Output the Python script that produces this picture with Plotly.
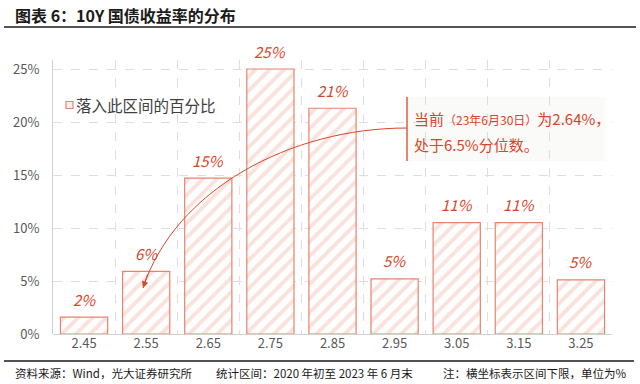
import plotly.graph_objects as go

# ---- data ----
categories = [2.45, 2.55, 2.65, 2.75, 2.85, 2.95, 3.05, 3.15, 3.25]
tick_labels = ["2.45", "2.55", "2.65", "2.75", "2.85", "2.95", "3.05", "3.15", "3.25"]
shares = [0.016, 0.059, 0.147, 0.250, 0.213, 0.052, 0.105, 0.105, 0.051]
share_labels = ["2%", "6%", "15%", "25%", "21%", "5%", "11%", "11%", "5%"]
y_ticks = [0, 0.05, 0.10, 0.15, 0.20, 0.25]
y_tick_labels = ["0%", "5%", "10%", "15%", "20%", "25%"]
boundaries = [2.50, 2.60, 2.70, 2.80, 2.90, 3.00, 3.10, 3.20]
series_name = "落入此区间的百分比"

FONT = "Noto Sans CJK SC"
RED = "#d8462a"
EDGE = "#e6846f"
STRIPE = "#f6c6ba"

L, R, T, B = 53, 28, 60, 50
W, H = 640, 384
pw, ph = W - L - R, H - T - B


def px2paper(px, py):
    return (px - L) / pw, (H - B - py) / ph


fig = go.Figure()
fig.add_trace(go.Bar(
    x=categories, y=shares, width=0.076,
    name=series_name, showlegend=False,
    marker=dict(color="white", line=dict(color=EDGE, width=1.2),
                pattern=dict(shape="/", fgcolor=STRIPE, bgcolor="white",
                             size=10, solidity=0.4, fillmode="overlay")),
    hoverinfo="skip",
))

annotations = []
for c, v, t in zip(categories, shares, share_labels):
    annotations.append(dict(x=c, y=v, xref="x", yref="y", text="<i>" + t + "</i>",
                            showarrow=False, yshift=18, yanchor="middle",
                            font=dict(family=FONT, size=15, color=RED)))


def page_text(px, py, text, size, color, anchor="left"):
    x, y = px2paper(px, py)
    return dict(x=x, y=y, xref="paper", yref="paper", xanchor=anchor, yanchor="middle",
                showarrow=False, text=text, font=dict(family=FONT, size=size, color=color),
                borderpad=0)


annotations += [
    page_text(75, 105, series_name, 15.5, "#404040"),
    page_text(413, 118, '当前<span style="font-size:12px">（23年6月30日）</span>为2.64%，', 15, RED),
    page_text(413, 144, "处于6.5%分位数。", 15, RED),
    page_text(14, 15, "<b>图表 6：10Y 国债收益率的分布</b>", 16, "#1a1a1a"),
    page_text(14, 373, "资料来源：Wind，光大证券研究所", 11.5, "#1a1a1a"),
    page_text(215, 373, "统计区间：2020 年初至 2023 年 6 月末", 11.5, "#1a1a1a"),
    page_text(442, 373, "注：横坐标表示区间下限，单位为%", 11.5, "#1a1a1a"),
]
tipx, tipy = px2paper(143, 288)
annotations.append(dict(x=tipx, y=tipy, xref="paper", yref="paper",
                        ax=5, ay=-15, showarrow=True, arrowhead=2, arrowsize=1.3,
                        arrowwidth=1, arrowcolor=RED, text=""))

shapes = []
# legend swatch
sx0, sy0 = px2paper(66, 108.5)
sx1, sy1 = px2paper(73, 101.5)
shapes.append(dict(type="rect", xref="paper", yref="paper", x0=sx0, x1=sx1, y0=sy0, y1=sy1,
                   fillcolor="#fdf0ec", line=dict(color=EDGE, width=1.2)))
# callout box
bx0, by0 = px2paper(407, 161)
bx1, by1 = px2paper(605, 97)
shapes.append(dict(type="rect", xref="paper", yref="paper", x0=bx0, x1=bx1, y0=by0, y1=by1,
                   fillcolor="rgba(240,237,236,0.3)", line=dict(width=0), layer="below"))
shapes.append(dict(type="line", xref="paper", yref="paper", x0=bx0, x1=bx0, y0=by0, y1=by1,
                   line=dict(color=EDGE, width=2)))
p0 = px2paper(407, 128)
p1 = px2paper(290, 128)
p2 = px2paper(175, 190)
p3 = px2paper(143, 288)
path = "M {} {} C {} {}, {} {}, {} {}".format(*p0, *p1, *p2, *p3)
shapes.append(dict(type="path", xref="paper", yref="paper", path=path,
                   line=dict(color=RED, width=1)))
tx0, ty = px2paper(4, 27)
tx1, _ = px2paper(636, 27)
shapes.append(dict(type="line", xref="paper", yref="paper", x0=tx0, x1=tx1, y0=ty, y1=ty,
                   line=dict(color="#1a1a1a", width=1.5)))
fx0, fy = px2paper(4, 361)
fx1, _ = px2paper(634, 361)
shapes.append(dict(type="line", xref="paper", yref="paper", x0=fx0, x1=fx1, y0=fy, y1=fy,
                   line=dict(color="#1a1a1a", width=1.5)))

fig.update_layout(
    width=W, height=H,
    margin=dict(l=L, r=R, t=T, b=B, pad=0),
    paper_bgcolor="white", plot_bgcolor="white",
    font=dict(family=FONT, color="#595959"),
    showlegend=False,
    xaxis=dict(range=[2.40, 3.30], tickmode="array", tickvals=categories, ticktext=tick_labels,
               showgrid=False, zeroline=False, showline=False, ticks="",
               tickfont=dict(family=FONT, size=13, color="#595959"),
               minor=dict(tickmode="array", tickvals=boundaries, showgrid=True,
                          gridcolor="#dedede", griddash="dash", gridwidth=1, ticks="")),
    yaxis=dict(range=[0, 0.2585], tickmode="array", tickvals=y_ticks, ticktext=y_tick_labels,
               showgrid=True, gridcolor="#dedede", griddash="dash", gridwidth=1,
               zeroline=True, zerolinecolor="#d0d0d0", zerolinewidth=1,
               showline=True, linecolor="#d0d0d0", linewidth=1, ticks="",
               ticklabelstandoff=10,
               tickfont=dict(family=FONT, size=13, color="#595959")),
    annotations=annotations, shapes=shapes,
)

fig.write_html("out.html", config={"displayModeBar": False},
               post_script="document.body.style.margin='0';")
